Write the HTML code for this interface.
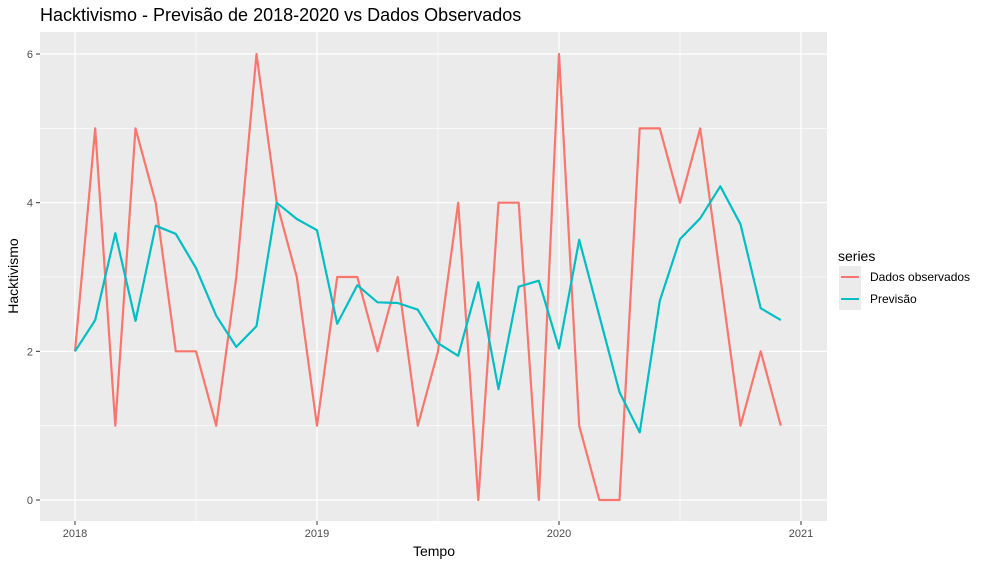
<!DOCTYPE html>
<html><head><meta charset="utf-8"><style>
body{margin:0;background:#fff;font-family:"Liberation Sans",sans-serif;}
</style></head><body>
<svg id="chart" width="986" height="567" xmlns="http://www.w3.org/2000/svg">
<text x="40" y="21" font-size="18" fill="#000">Hacktivismo - Previsão de 2018-2020 vs Dados Observados</text>
<rect x="40" y="32" width="787" height="489" fill="#ebebeb"/>
<g id="grid"></g>
<g id="series"></g>
<g id="axes"></g>
<text x="434" y="556" font-size="14" text-anchor="middle">Tempo</text>
<text transform="translate(18,276) rotate(-90)" font-size="14" text-anchor="middle">Hacktivismo</text>
<g>
<text x="838" y="261" font-size="14">series</text>
<rect x="839" y="266" width="22" height="22" fill="#ebebeb"/>
<line x1="841" y1="277" x2="859" y2="277" stroke="#f8766d" stroke-width="2"/>
<text x="870" y="281" font-size="12">Dados observados</text>
<rect x="839" y="288" width="22" height="22" fill="#ebebeb"/>
<line x1="841" y1="299" x2="859" y2="299" stroke="#00bfc4" stroke-width="2"/>
<text x="870" y="303" font-size="12">Previsão</text>
</g>
</svg>
<script>
const observed=[2,5,1,5,4,2,2,1,3,6,4,3, 1,3,3,2,3,1,2,4,0,4,4,0, 6,1,0,0,5,5,4,5,3,1,2,1];
const forecast=[2.0,2.42,3.59,2.41,3.69,3.58,3.12,2.48,2.06,2.34,4.0,3.78, 3.63,2.37,2.89,2.66,2.65,2.56,2.11,1.94,2.93,1.49,2.87,2.95, 2.04,3.5,2.48,1.45,0.91,2.68,3.51,3.79,4.22,3.71,2.58,2.42];
const yTicks=[0,2,4,6];
const xTicks=[2018,2019,2020,2021];
const startYear=2018;
const NS="http://www.w3.org/2000/svg";
function xs(t){return 75+(t-2018)*242;}
function ys(v){return 500-v*74.33;}
function mk(tag,attrs,parent){const e=document.createElementNS(NS,tag);for(const k in attrs)e.setAttribute(k,attrs[k]);parent.appendChild(e);return e;}
const grid=document.getElementById('grid'),axes=document.getElementById('axes'),ser=document.getElementById('series');
for(let i=0;i<yTicks.length-1;i++){const v=(yTicks[i]+yTicks[i+1])/2;const l=mk('line',{x1:40,x2:827,y1:ys(v),y2:ys(v),stroke:'#fff','stroke-width':0.6},grid);

}
for(let i=0;i<xTicks.length-1;i++){const v=(xTicks[i]+xTicks[i+1])/2;const l=mk('line',{x1:xs(v),x2:xs(v),y1:32,y2:521,stroke:'#fff','stroke-width':0.6},grid);

}
yTicks.forEach(v=>{const l=mk('line',{x1:40,x2:827,y1:ys(v),y2:ys(v),stroke:'#fff','stroke-width':1.2},grid);


mk('line',{x1:36,x2:40,y1:ys(v),y2:ys(v),stroke:'#333'},axes);
const t=mk('text',{x:33,y:ys(v)+4,'font-size':11,fill:'#4d4d4d','text-anchor':'end'},axes);t.textContent=v;

});
xTicks.forEach(v=>{const l=mk('line',{x1:xs(v),x2:xs(v),y1:32,y2:521,stroke:'#fff','stroke-width':1.2},grid);


mk('line',{x1:xs(v),x2:xs(v),y1:521,y2:525,stroke:'#333'},axes);
const t=mk('text',{x:xs(v),y:537,'font-size':11,fill:'#4d4d4d','text-anchor':'middle'},axes);t.textContent=v;

});
function line(arr,color,name){const pts=arr.map((v,i)=>xs(startYear+i/12).toFixed(1)+','+ys(v).toFixed(1)).join(' ');
const p=mk('polyline',{points:pts,fill:'none',stroke:color,'stroke-width':2.2,'stroke-linejoin':'round'},ser);

}
line(observed,'#f8766d','observed-line');
line(forecast,'#00bfc4','forecast-line');
</script>
</body></html>
